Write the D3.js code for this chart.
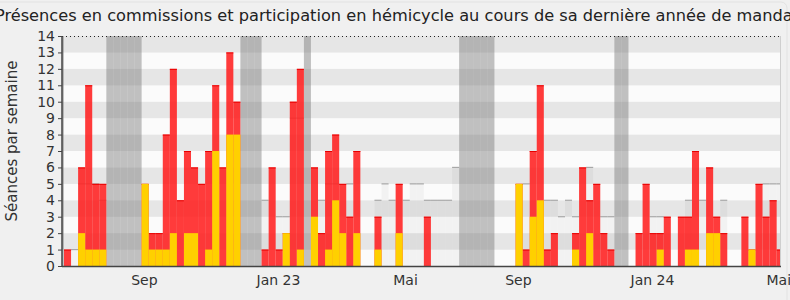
<!DOCTYPE html>
<html>
<head>
<meta charset="utf-8">
<script src="https://cdn.jsdelivr.net/npm/d3@7"></script>
<style>
  body { margin: 0; background: #f0f0f0; }
  svg { display: block; font-family: "DejaVu Sans", sans-serif; }
</style>
</head>
<body>
<div id="chart"></div>
<script>
const title = "Présences en commissions et participation en hémicycle au cours de sa dernière année de mandat";
const yLabel = "Séances par semaine";

// one entry per week, week 0 = 27 June 2022
const totals = [
  1, 0, 6, 11, 5, 5, 0, 0, 0, 0,
  0, 5, 2, 2, 8, 12, 4, 7, 6, 5,
  7, 11, 6, 13, 10, 0, 0, 0, 1, 6,
  1, 2, 10, 12, 0, 6, 2, 7, 8, 5,
  3, 7, 0, 0, 3, 0, 0, 5, 0, 0,
  0, 3, 0, 0, 0, 0, 0, 0, 0, 0,
  0, 0, 0, 0, 5, 1, 7, 11, 1, 2,
  0, 0, 2, 6, 4, 5, 2, 1, 0, 0,
  0, 2, 5, 2, 2, 3, 0, 3, 3, 7,
  0, 6, 3, 2, 0, 0, 3, 1, 5, 3,
  4, 1
];
const hemicycle = [
  0, 0, 2, 1, 1, 1, 0, 0, 0, 0,
  0, 5, 1, 1, 1, 2, 0, 2, 2, 0,
  1, 7, 0, 8, 8, 0, 0, 0, 0, 0,
  0, 2, 0, 1, 0, 3, 0, 1, 4, 2,
  0, 2, 0, 0, 1, 0, 0, 2, 0, 0,
  0, 0, 0, 0, 0, 0, 0, 0, 0, 0,
  0, 0, 0, 0, 5, 0, 3, 4, 0, 0,
  0, 0, 1, 0, 2, 0, 0, 0, 0, 0,
  0, 0, 0, 0, 1, 0, 0, 0, 1, 1,
  0, 2, 2, 0, 0, 0, 0, 1, 0, 0,
  0, 0
];
// median presence, null where it cannot be read
const median = [
  null, 1, 5, 5, 5, 4, null, null, null, null,
  null, null, null, null, null, null, null, null, null, null,
  null, null, null, null, null, null, null, null, 4, null,
  3, 3, 9, 9, null, null, 4, 5, 5, null,
  5, null, null, null, 4, 5, 4, null, 4, 5,
  5, 4, 4, 4, 4, 6, null, null, null, null,
  null, null, null, null, null, 5, null, null, 4, 4,
  3, 4, 3, null, 6, null, 3, 3, null, null,
  null, null, null, 3, 3, null, null, null, 4, null,
  4, null, null, 4, null, null, null, null, null, 5,
  5, 5
];
const vacations = [-1, 6, 7, 8, 9, 10, 25, 26, 27, 34, 56, 57, 58, 59, 60, 78, 79];
const monthLabels = ["Sep", "Jan 23", "Mai", "Sep", "Jan 24", "Mai"];
const monthWeeks = [11.4, 30.4, 48.4, 64.4, 83.4, 101.3];

const width = 790, height = 300;
const plot = { left: 62, right: 780, top: 36, bottom: 266 };
const weekWidth = 7.056;
const nWeeks = totals.length;

const svg = d3.select("#chart").append("svg")
    .attr("width", width)
    .attr("height", height);

svg.append("rect")
    .attr("x", -10).attr("y", 2)
    .attr("width", 797).attr("height", 330)
    .attr("rx", 6)
    .attr("fill", "#f0f0f0")
    .attr("stroke", "#e2e2e2");

const x = d3.scaleLinear()
    .domain([0, nWeeks])
    .range([64, 64 + nWeeks * weekWidth]);

const y = d3.scaleLinear()
    .domain([0, 14])
    .range([plot.bottom, plot.top]);

svg.append("clipPath").attr("id", "clip")
  .append("rect")
    .attr("x", plot.left).attr("y", plot.top)
    .attr("width", plot.right - plot.left)
    .attr("height", plot.bottom - plot.top);

const chart = svg.append("g").attr("clip-path", "url(#clip)");

// horizontal stripes
chart.selectAll("rect.band")
    .data(d3.range(14))
    .join("rect")
    .attr("class", "band")
    .attr("x", plot.left)
    .attr("width", plot.right - plot.left)
    .attr("y", d => y(d + 1))
    .attr("height", d => y(d) - y(d + 1))
    .attr("fill", d => d % 2 ? "#e6e6e6" : "#fbfbfb");

const medWeeks = d3.range(nWeeks).filter(i => median[i] != null);

chart.selectAll("rect.median")
    .data(medWeeks)
    .join("rect")
    .attr("class", "median")
    .attr("x", i => x(i))
    .attr("width", weekWidth)
    .attr("y", i => y(median[i]))
    .attr("height", i => y(0) - y(median[i]))
    .attr("fill", "rgba(0,0,0,0.035)");

chart.selectAll("line.median")
    .data(medWeeks)
    .join("line")
    .attr("class", "median")
    .attr("x1", i => x(i))
    .attr("x2", i => x(i + 1))
    .attr("y1", i => y(median[i]))
    .attr("y2", i => y(median[i]))
    .attr("stroke", "#a8a8a8")
    .attr("stroke-width", 1.2);

chart.selectAll("rect.vac")
    .data(vacations)
    .join("rect")
    .attr("class", "vac")
    .attr("x", i => x(i))
    .attr("width", weekWidth)
    .attr("y", plot.top)
    .attr("height", plot.bottom - plot.top)
    .attr("fill", "rgba(120,120,120,0.45)");

const barWeeks = d3.range(nWeeks).filter(i => totals[i] > 0);

chart.selectAll("rect.total")
    .data(barWeeks)
    .join("rect")
    .attr("class", "total")
    .attr("x", i => x(i))
    .attr("width", weekWidth)
    .attr("y", i => y(totals[i]))
    .attr("height", i => y(0) - y(totals[i]))
    .attr("fill", "#ff2020")
    .attr("fill-opacity", 0.88);

chart.selectAll("line.total")
    .data(barWeeks)
    .join("line")
    .attr("class", "total")
    .attr("x1", i => x(i))
    .attr("x2", i => x(i + 1))
    .attr("y1", i => y(totals[i]) + 0.5)
    .attr("y2", i => y(totals[i]) + 0.5)
    .attr("stroke", "#e80000")
    .attr("stroke-width", 1);

chart.selectAll("rect.hemi")
    .data(d3.range(nWeeks).filter(i => hemicycle[i] > 0))
    .join("rect")
    .attr("class", "hemi")
    .attr("x", i => x(i))
    .attr("width", weekWidth)
    .attr("y", i => y(hemicycle[i]))
    .attr("height", i => y(0) - y(hemicycle[i]))
    .attr("fill", "#ffd000");

// frame
svg.append("line")
    .attr("x1", plot.left).attr("x2", plot.right)
    .attr("y1", plot.top + 0.5).attr("y2", plot.top + 0.5)
    .attr("stroke", "#222")
    .attr("stroke-dasharray", "1,3");
svg.append("line")
    .attr("x1", plot.right + 0.5).attr("x2", plot.right + 0.5)
    .attr("y1", plot.top).attr("y2", plot.bottom)
    .attr("stroke", "#cfcfcf");

const yAxis = svg.append("g")
    .attr("transform", `translate(${plot.left},0)`)
    .call(d3.axisLeft(y).ticks(14).tickSize(4).tickPadding(3));
yAxis.select(".domain").remove();
yAxis.selectAll(".tick line").attr("stroke", "#444");
yAxis.selectAll("text")
    .attr("font-size", 14)
    .attr("font-family", "DejaVu Sans")
    .attr("fill", "#333");

svg.append("line")
    .attr("x1", plot.left).attr("x2", plot.left)
    .attr("y1", plot.top).attr("y2", plot.bottom + 1)
    .attr("stroke", "#444").attr("stroke-width", 1.5);
svg.append("line")
    .attr("x1", plot.left).attr("x2", plot.right + 1)
    .attr("y1", plot.bottom + 0.5).attr("y2", plot.bottom + 0.5)
    .attr("stroke", "#444").attr("stroke-width", 1.5);

svg.selectAll("text.month")
    .data(monthLabels)
    .join("text")
    .attr("class", "month")
    .attr("x", (d, i) => x(monthWeeks[i]))
    .attr("y", 285)
    .attr("text-anchor", "middle")
    .attr("font-size", 14)
    .attr("fill", "#333")
    .text(d => d);

svg.append("text")
    .attr("transform", "translate(17,141) rotate(-90)")
    .attr("text-anchor", "middle")
    .attr("font-size", 15)
    .attr("fill", "#333")
    .text(yLabel);

const t = svg.append("text")
    .attr("x", 397)
    .attr("y", 21)
    .attr("text-anchor", "middle")
    .attr("font-size", 16)
    .attr("fill", "#222")
    .text(title);
const len = t.node().getComputedTextLength();
t.attr("font-size", 16 * 805 / len);
</script>
</body>
</html>
